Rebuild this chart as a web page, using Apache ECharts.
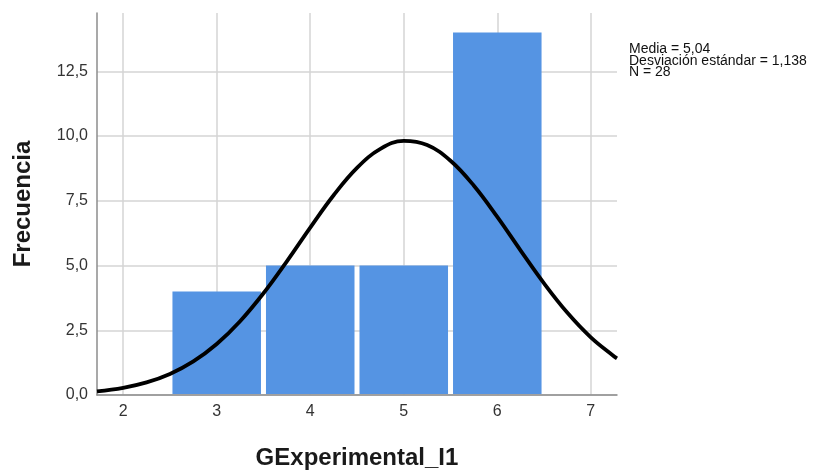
<!DOCTYPE html>
<html>
<head>
<meta charset="utf-8">
<script src="https://cdn.jsdelivr.net/npm/echarts@6/dist/echarts.min.js"></script>
<style>
  html, body { margin: 0; padding: 0; background: #fff; }
  #chart { width: 818px; height: 474px; }
</style>
</head>
<body>
<div id="chart"></div>
<script>
// histograma GExperimental_I1
var binValues = [3, 4, 5, 6];
var frequencies = [4, 5, 5, 14];
var xTicks = [2, 3, 4, 5, 6, 7];
var yTicks = [0, 2.5, 5, 7.5, 10, 12.5];
// curva normal
var curveX = [1.72, 2, 2.25, 2.5, 2.75, 3, 3.25, 3.5, 3.75, 4, 4.25, 4.5, 4.75, 5, 5.25, 5.5, 5.75, 6, 6.25, 6.5, 6.75, 7, 7.25, 7.28];
var curveY = [0.139, 0.277, 0.486, 0.813, 1.296, 1.968, 2.849, 3.929, 5.163, 6.465, 7.714, 8.771, 9.502, 9.810, 9.650, 9.045, 8.081, 6.877, 5.577, 4.310, 3.174, 2.227, 1.489, 1.414];
var statsLines = ['Media = 5,04', 'Desviación estándar = 1,138', 'N = 28'];

var chart = echarts.init(document.getElementById('chart'));

var barData = [];
for (var i = 0; i < binValues.length; i++) {
	barData.push([binValues[i], frequencies[i]]);
}
var curveData = [];
for (var j = 0; j < curveX.length; j++) {
	curveData.push([curveX[j], curveY[j]]);
}

var font = '"Liberation Sans", Arial, sans-serif';

option = {
	animation: false,
	backgroundColor: '#fff',
	grid: { left: 97, right: 201, top: 13, bottom: 79, outerBoundsMode: 'none', containLabel: false },
	xAxis: {
		type: 'value',
		min: 1.72,
		max: 7.28,
		name: 'GExperimental_I1',
		nameLocation: 'middle',
		nameGap: 51,
		nameTextStyle: { fontFamily: font, fontSize: 24, fontWeight: 'bold', color: '#1a1a1a' },
		axisLine: { show: true, lineStyle: { color: '#8c8c8c', width: 1.5 } },
		axisTick: { show: false, customValues: xTicks },
		axisLabel: {
			customValues: xTicks,
			fontFamily: font, fontSize: 16, color: '#333', margin: 9,
			formatter: function (v) { return String(v); }
		},
		splitLine: { show: true, lineStyle: { color: '#d4d4d4', width: 1.5 } }
	},
	yAxis: {
		type: 'value',
		min: 0,
		max: 14.75,
		name: 'Frecuencia',
		nameLocation: 'middle',
		nameGap: 62,
		nameTextStyle: { fontFamily: font, fontSize: 24, fontWeight: 'bold', color: '#1a1a1a' },
		axisLine: { show: true, lineStyle: { color: '#8c8c8c', width: 1.5 } },
		axisTick: { show: false, customValues: yTicks },
		axisLabel: {
			customValues: yTicks,
			fontFamily: font, fontSize: 16, color: '#333', margin: 9,
			formatter: function (v) { return v.toFixed(1).replace('.', ','); }
		},
		splitLine: { show: true, lineStyle: { color: '#d4d4d4', width: 1.5 } }
	},
	graphic: [
		{
			type: 'text',
			left: 629,
			top: 42,
			style: {
				text: statsLines.join('\n'),
				font: '14px ' + font,
				lineHeight: 11.7,
				fill: '#111'
			}
		}
	],
	series: [
		{
			type: 'custom',
			data: barData,
			z: 2,
			renderItem: function (params, api) {
				var x = api.value(0);
				var y = api.value(1);
				var p0 = api.coord([x - 0.5, y]);
				var p1 = api.coord([x + 0.5, 0]);
				return {
					type: 'rect',
					shape: { x: p0[0] + 2.5, y: p0[1], width: p1[0] - p0[0] - 5, height: p1[1] - p0[1] - 1 },
					style: { fill: '#5594e3' }
				};
			}
		},
		{
			type: 'line',
			data: curveData,
			smooth: 0.4,
			showSymbol: false,
			z: 3,
			lineStyle: { color: '#000', width: 3.8 }
		}
	]
};
chart.setOption(option);
</script>
</body>
</html>
